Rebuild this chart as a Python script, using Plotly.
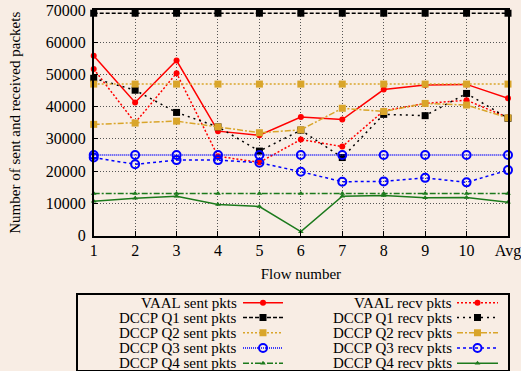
import plotly.graph_objects as go

flows = ['1', '2', '3', '4', '5', '6', '7', '8', '9', '10', 'Avg']

vaal_sent = [55800, 41300, 54300, 32400, 31100, 36800, 36000, 45300, 46700, 46900, 42600]
vaal_recv = [51700, 35000, 50400, 24600, 22700, 29800, 27600, 38700, 41000, 42000, 36600]
q1_sent = [69000] * 11
q1_recv = [48800, 45100, 38200, 33700, 26200, 32700, 24200, 37600, 37200, 44100, 36400]
q2_sent = [47000] * 11
q2_recv = [34500, 34900, 35500, 33700, 31900, 32800, 39500, 38500, 41000, 40500, 36500]
q3_sent = [25000] * 11
q3_recv = [24200, 22100, 23400, 23400, 22600, 19800, 16700, 16800, 17900, 16500, 20300]
q4_sent = [13000] * 11
q4_recv = [10600, 11600, 12200, 9600, 9000, 1200, 12200, 12400, 11700, 11800, 10300]

y_ticks = [0, 10000, 20000, 30000, 40000, 50000, 60000, 70000]

RED = '#ff0000'
BLK = '#000000'
GOLD = '#d9a52a'
BLUE = '#0000ff'
GREEN = '#1c7a1c'
BG = '#f8ede4'
FONT = 'Liberation Serif, Times New Roman, serif'

series = [
    ('VAAL sent pkts', vaal_sent, dict(color=RED, dash='solid', width=1.5), dict(symbol='circle', size=6, color=RED)),
    ('VAAL recv pkts', vaal_recv, dict(color=RED, dash='2px,2px', width=1.5), dict(symbol='circle', size=6, color=RED)),
    ('DCCP Q1 sent pkts', q1_sent, dict(color=BLK, dash='4px,2px', width=1.5), dict(symbol='square', size=7, color=BLK)),
    ('DCCP Q1 recv pkts', q1_recv, dict(color=BLK, dash='2px,4px', width=1.5), dict(symbol='square', size=7, color=BLK)),
    ('DCCP Q2 sent pkts', q2_sent, dict(color=GOLD, dash='2px,2px', width=1.5), dict(symbol='square', size=7, color=GOLD)),
    ('DCCP Q2 recv pkts', q2_recv, dict(color=GOLD, dash='6px,2px,2px,2px', width=1.5), dict(symbol='square', size=7, color=GOLD)),
    ('DCCP Q3 sent pkts', q3_sent, dict(color=BLUE, dash='1px,1px', width=1.5), dict(symbol='circle-open', size=8, color=BLUE, line=dict(width=2, color=BLUE))),
    ('DCCP Q3 recv pkts', q3_recv, dict(color=BLUE, dash='3px,3px', width=1.5), dict(symbol='circle-open', size=8, color=BLUE, line=dict(width=2, color=BLUE))),
    ('DCCP Q4 sent pkts', q4_sent, dict(color=GREEN, dash='6px,2px,2px,2px', width=1.5), dict(symbol='triangle-up', size=5, color=GREEN)),
    ('DCCP Q4 recv pkts', q4_recv, dict(color=GREEN, dash='solid', width=1.5), dict(symbol='triangle-up', size=5, color=GREEN)),
]

fig = go.Figure()
for name, vals, ln, mk in series:
    fig.add_trace(go.Scatter(x=flows, y=vals, mode='lines+markers', name=name,
                             line=ln, marker=mk, showlegend=False, cliponaxis=False))

# custom legend (text before sample, two columns), drawn on a helper axis pair
legend_rows = [302.7, 317.6, 332.8, 348.0, 363.2]
col_text_x = [239, 454]
col_line = [(243, 283), (457, 498)]
for i, (name, vals, ln, mk) in enumerate(series):
    col = i % 2
    row = i // 2
    yy = legend_rows[row]
    x0, x1 = col_line[col]
    fig.add_trace(go.Scatter(x=[x0, x1], y=[yy, yy], mode='lines', line=ln,
                             xaxis='x2', yaxis='y2', showlegend=False, hoverinfo='skip'))
    fig.add_trace(go.Scatter(x=[(x0 + x1) / 2], y=[yy], mode='markers', marker=mk,
                             xaxis='x2', yaxis='y2', showlegend=False, hoverinfo='skip'))
    fig.add_annotation(x=col_text_x[col], y=yy, xref='x2', yref='y2', text=name,
                       showarrow=False, xanchor='right', yanchor='middle',
                       font=dict(family=FONT, size=15, color='black'))

W, H = 521, 371
L, R, T, B = 78, 13, 10, 0
pw = W - L - R
ph = H - T - B

fig.update_layout(
    width=W, height=H,
    margin=dict(l=L, r=R, t=T, b=B, autoexpand=False),
    paper_bgcolor=BG, plot_bgcolor=BG,
    font=dict(family=FONT, size=15, color='black'),
    xaxis=dict(
        domain=[(93.7 - L) / pw, 1], range=[0, 10], type='category',
        categoryorder='array', categoryarray=flows,
        showline=True, linecolor='black', linewidth=1.5, mirror=True,
        showgrid=True, gridcolor='#555555', griddash='1px,2px', gridwidth=1,
        ticks='inside', ticklen=5, tickcolor='black',
        tickfont=dict(family=FONT, size=16), ticklabelstandoff=0,
        title=dict(text='Flow number', font=dict(family=FONT, size=15), standoff=9),
        zeroline=False, anchor='y', automargin=False,
    ),
    yaxis=dict(
        domain=[(H - 235.5) / ph, 1], range=[0, 70000],
        tickvals=y_ticks, ticktext=[str(v) for v in y_ticks],
        showline=True, linecolor='black', linewidth=1.5, mirror=True,
        showgrid=True, gridcolor='#555555', griddash='1px,2px', gridwidth=1,
        ticks='inside', ticklen=5, tickcolor='black',
        tickfont=dict(family=FONT, size=16), ticklabelstandoff=3,
        title=dict(text='Number of sent and received packets', font=dict(family=FONT, size=15), standoff=22),
        zeroline=False, anchor='x', automargin=False,
    ),
    xaxis2=dict(domain=[0, 1], range=[L, W - R], anchor='y2', visible=True,
                showline=True, linecolor='black', linewidth=1.5, mirror=True,
                showgrid=False, zeroline=False, showticklabels=False, ticks='', automargin=False),
    yaxis2=dict(domain=[(H - 369.5) / ph, (H - 294.7) / ph], range=[369.5, 294.7], anchor='x2',
                showline=True, linecolor='black', linewidth=1.5, mirror=True,
                showgrid=False, zeroline=False, showticklabels=False, ticks='', automargin=False),
)

fig.write_html('out.html', config={'displayModeBar': False},
               post_script="document.body.style.margin='0';document.body.style.padding='0';document.body.style.background='" + BG + "';")
